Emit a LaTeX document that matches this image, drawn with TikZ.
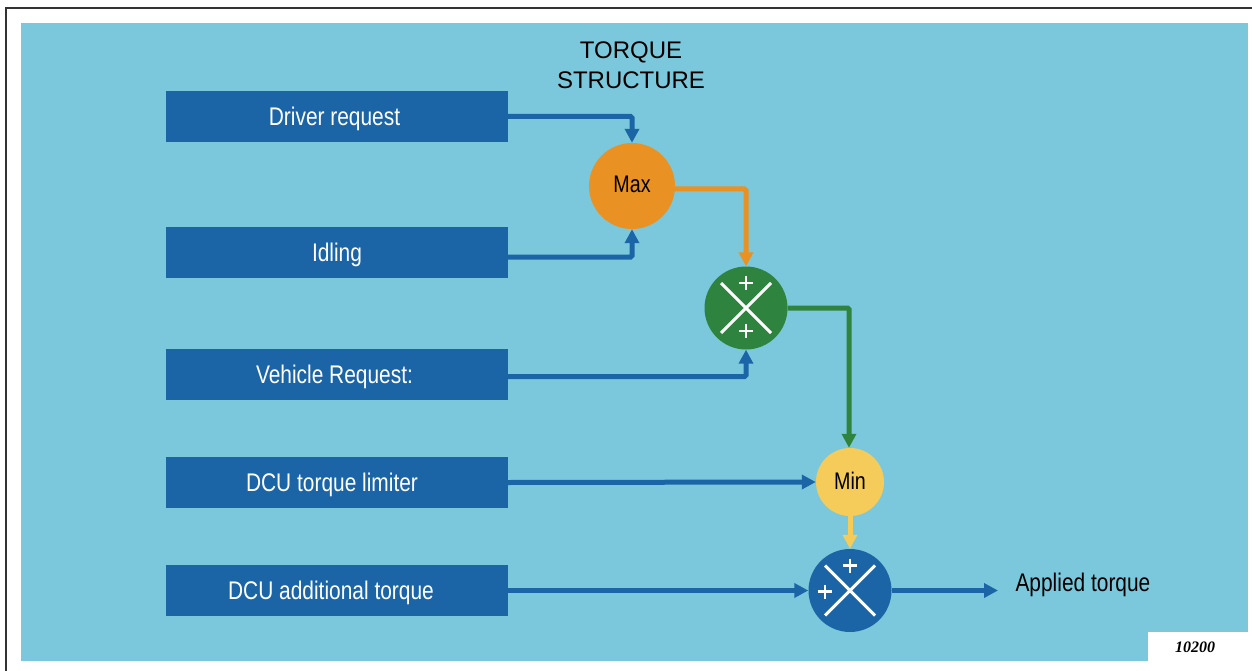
\documentclass[tikz,border=0pt]{standalone}
\usepackage{fontspec}
\setmainfont{Liberation Sans}
\newfontfamily\narrow[FakeStretch=0.82]{Liberation Sans}
\newfontfamily\numfont{Liberation Serif}
\usetikzlibrary{arrows.meta,calc}
\definecolor{bgblue}{HTML}{7BC8DC}
\definecolor{boxblue}{HTML}{1B65A6}
\definecolor{maxorange}{HTML}{E99122}
\definecolor{sumgreen}{HTML}{2E843E}
\definecolor{minyellow}{HTML}{F5CC5A}
\definecolor{framegray}{HTML}{333333}
\tikzset{
  inbox/.style={fill=boxblue, minimum width=342pt, minimum height=51pt, inner sep=0pt,
    text height=18pt, text depth=0pt,
    text=white, font=\narrow\fontsize{25.5}{30}\selectfont},
  opcircle/.style={circle, inner sep=0pt, font=\narrow\fontsize{24}{28}\selectfont},
  conn/.style={line width=5pt, -{Triangle[length=14pt,width=14pt]}, rounded corners=1.5pt},
  cross/.style={white, line width=3pt},
  plussign/.style={white, line width=2.5pt},
}
\begin{document}
\begin{tikzpicture}[x=1pt,y=-1pt]
\useasboundingbox (0,0) rectangle (1252,671);
% frame
\draw[framegray, line width=2.2pt] (6,671) -- (6,8) -- (1252,8);
% background
\fill[bgblue] (21,23) rectangle (1248,661);
\fill[white] (1148,632) rectangle (1252,662);
\node[font=\numfont\bfseries\itshape\fontsize{16}{18}\selectfont] (num) at (1195,647) {10200};
% title
\node[font=\fontsize{24}{30}\selectfont, align=center] (title) at (631,65.5) {TORQUE\\STRUCTURE};
% input boxes
\node[inbox] (dr) at (337,116.5) {\hspace*{-5pt}Driver request};
\node[inbox] (id) at (337,252) {Idling};
\node[inbox] (vr) at (337,374.5) {\hspace*{-5pt}Vehicle Request:};
\node[inbox] (tl) at (337,482.5) {\hspace*{-10pt}DCU torque limiter};
\node[inbox] (at) at (337,590.5) {\hspace*{-12pt}DCU additional torque};
% operators
\node[opcircle, fill=maxorange, minimum size=86pt, text height=17pt, text depth=0pt] (max) at (632,186) {\raisebox{2pt}{Max}};
\node[opcircle, fill=sumgreen, minimum size=83pt] (s1) at (746,308) {};
\node[opcircle, fill=minyellow, minimum size=68pt, text height=17pt, text depth=0pt] (min) at (850,482) {\raisebox{1pt}{Min}};
\node[opcircle, fill=boxblue, minimum size=83pt] (s2) at (850,590.5) {};
% crosses and plus signs
\draw[cross] ($(s1)+(-25,-25)$) -- ($(s1)+(25,25)$) ($(s1)+(-25,25)$) -- ($(s1)+(25,-25)$);
\draw[plussign] ($(s1)+(-7,-25)$) -- ($(s1)+(7,-25)$) ($(s1)+(0,-32)$) -- ($(s1)+(0,-18)$);
\draw[plussign] ($(s1)+(-7,23)$) -- ($(s1)+(7,23)$) ($(s1)+(0,16)$) -- ($(s1)+(0,30)$);
\draw[cross] ($(s2)+(-25,-25)$) -- ($(s2)+(25,25)$) ($(s2)+(-25,25)$) -- ($(s2)+(25,-25)$);
\draw[plussign] ($(s2)+(-7,-25)$) -- ($(s2)+(7,-25)$) ($(s2)+(0,-32)$) -- ($(s2)+(0,-18)$);
\draw[plussign] ($(s2)+(-32,1)$) -- ($(s2)+(-18,1)$) ($(s2)+(-25,-6)$) -- ($(s2)+(-25,8)$);
% connectors
\draw[conn, boxblue] (dr.east) -| (max.north);
\draw[conn, boxblue] ([yshift=-5pt]id.east) -| (max.south);
\draw[conn, maxorange] ([yshift=-3pt]max.east) -| (s1.north);
\draw[conn, boxblue] ([yshift=-2pt]vr.east) -| (s1.south);
\draw[conn, sumgreen] (s1.east) -| ([xshift=-1pt]min.north);
\draw[conn, boxblue] (tl.east) -- (min.west);
\draw[conn, minyellow] (min.south) -- (s2.north);
\draw[conn, boxblue] (at.east) -- (s2.west);
\coordinate (out) at (998,590.5);
\draw[conn, boxblue] (s2.east) -- (out);
\node[anchor=west, font=\narrow\fontsize{25.5}{30}\selectfont] (applied) at (1012,585) {Applied torque};
\end{tikzpicture}
\end{document}
